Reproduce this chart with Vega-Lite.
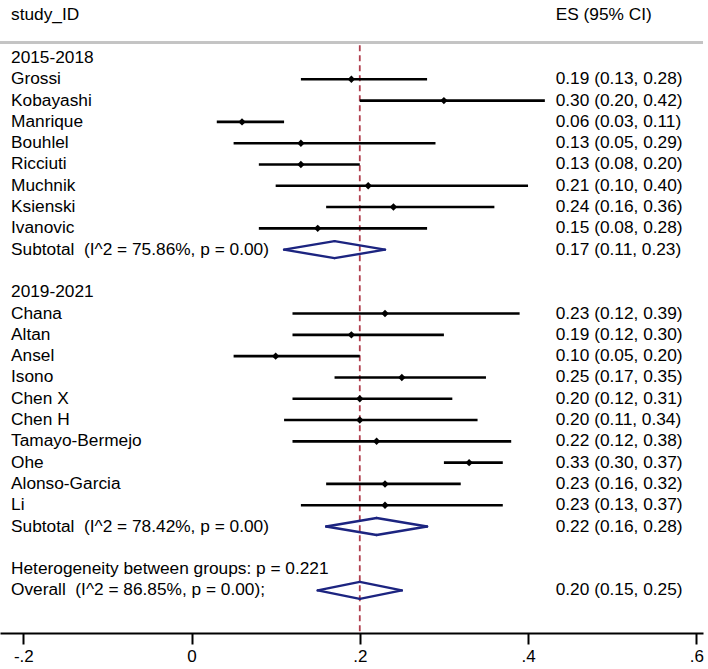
{
  "$schema": "https://vega.github.io/schema/vega-lite/v6.json",
  "width": 703,
  "height": 633,
  "padding": {"left": 0, "top": 0, "right": 5, "bottom": 36},
  "autosize": {"type": "none"},
  "background": "white",
  "config": {
    "view": {"stroke": null},
    "font": "Liberation Sans",
    "text": {"font": "Liberation Sans", "fontSize": 17.3, "color": "black"}
  },
  "data": {
    "values": [
      {"row": -2, "label": "study_ID", "ci": "ES (95% CI)", "type": "header"},
      {"row": 0, "label": "2015-2018", "type": "group"},
      {"row": 1, "label": "Grossi", "es": 0.19, "lo": 0.13, "hi": 0.28, "ci": "0.19 (0.13, 0.28)", "type": "study"},
      {"row": 2, "label": "Kobayashi", "es": 0.30, "lo": 0.20, "hi": 0.42, "ci": "0.30 (0.20, 0.42)", "type": "study"},
      {"row": 3, "label": "Manrique", "es": 0.06, "lo": 0.03, "hi": 0.11, "ci": "0.06 (0.03, 0.11)", "type": "study"},
      {"row": 4, "label": "Bouhlel", "es": 0.13, "lo": 0.05, "hi": 0.29, "ci": "0.13 (0.05, 0.29)", "type": "study"},
      {"row": 5, "label": "Ricciuti", "es": 0.13, "lo": 0.08, "hi": 0.20, "ci": "0.13 (0.08, 0.20)", "type": "study"},
      {"row": 6, "label": "Muchnik", "es": 0.21, "lo": 0.10, "hi": 0.40, "ci": "0.21 (0.10, 0.40)", "type": "study"},
      {"row": 7, "label": "Ksienski", "es": 0.24, "lo": 0.16, "hi": 0.36, "ci": "0.24 (0.16, 0.36)", "type": "study"},
      {"row": 8, "label": "Ivanovic", "es": 0.15, "lo": 0.08, "hi": 0.28, "ci": "0.15 (0.08, 0.28)", "type": "study"},
      {"row": 9, "label": "Subtotal \u00a0(I^2 = 75.86%, p = 0.00)", "es": 0.17, "lo": 0.11, "hi": 0.23, "ci": "0.17 (0.11, 0.23)", "type": "subtotal"},
      {"row": 11, "label": "2019-2021", "type": "group"},
      {"row": 12, "label": "Chana", "es": 0.23, "lo": 0.12, "hi": 0.39, "ci": "0.23 (0.12, 0.39)", "type": "study"},
      {"row": 13, "label": "Altan", "es": 0.19, "lo": 0.12, "hi": 0.30, "ci": "0.19 (0.12, 0.30)", "type": "study"},
      {"row": 14, "label": "Ansel", "es": 0.10, "lo": 0.05, "hi": 0.20, "ci": "0.10 (0.05, 0.20)", "type": "study"},
      {"row": 15, "label": "Isono", "es": 0.25, "lo": 0.17, "hi": 0.35, "ci": "0.25 (0.17, 0.35)", "type": "study"},
      {"row": 16, "label": "Chen X", "es": 0.20, "lo": 0.12, "hi": 0.31, "ci": "0.20 (0.12, 0.31)", "type": "study"},
      {"row": 17, "label": "Chen H", "es": 0.20, "lo": 0.11, "hi": 0.34, "ci": "0.20 (0.11, 0.34)", "type": "study"},
      {"row": 18, "label": "Tamayo-Bermejo", "es": 0.22, "lo": 0.12, "hi": 0.38, "ci": "0.22 (0.12, 0.38)", "type": "study"},
      {"row": 19, "label": "Ohe", "es": 0.33, "lo": 0.30, "hi": 0.37, "ci": "0.33 (0.30, 0.37)", "type": "study"},
      {"row": 20, "label": "Alonso-Garcia", "es": 0.23, "lo": 0.16, "hi": 0.32, "ci": "0.23 (0.16, 0.32)", "type": "study"},
      {"row": 21, "label": "Li", "es": 0.23, "lo": 0.13, "hi": 0.37, "ci": "0.23 (0.13, 0.37)", "type": "study"},
      {"row": 22, "label": "Subtotal \u00a0(I^2 = 78.42%, p = 0.00)", "es": 0.22, "lo": 0.16, "hi": 0.28, "ci": "0.22 (0.16, 0.28)", "type": "subtotal"},
      {"row": 24, "label": "Heterogeneity between groups: p = 0.221", "type": "note"},
      {"row": 25, "label": "Overall \u00a0(I^2 = 86.85%, p = 0.00);", "es": 0.20, "lo": 0.15, "hi": 0.25, "ci": "0.20 (0.15, 0.25)", "type": "overall"}
    ]
  },
  "encoding": {
    "y": {
      "field": "row",
      "type": "quantitative",
      "scale": {"domain": [-2.723, 27], "reverse": true, "nice": false, "zero": false},
      "axis": null
    }
  },
  "layer": [
    {
      "mark": {"type": "rule", "color": "#c4c4c4", "strokeWidth": 2},
      "encoding": {
        "x": {
          "datum": -0.2277,
          "type": "quantitative",
          "scale": {"domain": [-0.2277, 0.608], "nice": false, "zero": false},
          "axis": {
            "values": [-0.2, 0, 0.2, 0.4, 0.6],
            "labelExpr": "datum.value < -0.1 ? '-.2' : datum.value < 0.1 ? '0' : datum.value < 0.3 ? '.2' : datum.value < 0.5 ? '.4' : '.6'",
            "title": null,
            "grid": false,
            "domainColor": "black",
            "domainWidth": 2,
            "tickColor": "black",
            "tickWidth": 2,
            "tickSize": 11,
            "labelFont": "Liberation Sans",
            "labelFontSize": 17,
            "labelColor": "black",
            "labelPadding": 4,
            "labelBaseline": "top",
            "labelFlush": false
          }
        },
        "x2": {"datum": 0.608},
        "y": {"datum": -0.74, "type": "quantitative"}
      }
    },
    {
      "transform": [{"filter": "datum.type === 'overall'"}],
      "mark": {"type": "rule", "color": "#b0404f", "strokeWidth": 1.8, "strokeDash": [6, 4]},
      "encoding": {
        "x": {"field": "es", "type": "quantitative"},
        "y": {"datum": -0.6, "type": "quantitative"},
        "y2": {"datum": 27}
      }
    },
    {
      "mark": {"type": "text", "align": "left", "baseline": "middle"},
      "encoding": {
        "x": {"datum": -0.2146, "type": "quantitative"},
        "text": {"field": "label"}
      }
    },
    {
      "transform": [{"filter": "isValid(datum.ci)"}],
      "mark": {"type": "text", "align": "left", "baseline": "middle"},
      "encoding": {
        "x": {"datum": 0.4329, "type": "quantitative"},
        "text": {"field": "ci"}
      }
    },
    {
      "transform": [{"filter": "datum.type === 'study'"}],
      "mark": {"type": "rule", "color": "black", "strokeWidth": 2.6},
      "encoding": {
        "x": {"field": "lo", "type": "quantitative"},
        "x2": {"field": "hi"}
      }
    },
    {
      "transform": [{"filter": "datum.type === 'study'"}],
      "mark": {"type": "point", "shape": "diamond", "filled": true, "size": 55, "color": "black", "opacity": 1},
      "encoding": {
        "x": {"field": "es", "type": "quantitative"}
      }
    },
    {
      "transform": [{"filter": "datum.type === 'subtotal' || datum.type === 'overall'"}],
      "mark": {"type": "rule", "color": "#1c2480", "strokeWidth": 2.4, "strokeCap": "round", "y2Offset": -8.5},
      "encoding": {
        "x": {"field": "lo", "type": "quantitative"},
        "x2": {"field": "es"},
        "y2": {"field": "row"}
      }
    },
    {
      "transform": [{"filter": "datum.type === 'subtotal' || datum.type === 'overall'"}],
      "mark": {"type": "rule", "color": "#1c2480", "strokeWidth": 2.4, "strokeCap": "round", "y2Offset": 8.5},
      "encoding": {
        "x": {"field": "lo", "type": "quantitative"},
        "x2": {"field": "es"},
        "y2": {"field": "row"}
      }
    },
    {
      "transform": [{"filter": "datum.type === 'subtotal' || datum.type === 'overall'"}],
      "mark": {"type": "rule", "color": "#1c2480", "strokeWidth": 2.4, "strokeCap": "round", "y2Offset": -8.5},
      "encoding": {
        "x": {"field": "hi", "type": "quantitative"},
        "x2": {"field": "es"},
        "y2": {"field": "row"}
      }
    },
    {
      "transform": [{"filter": "datum.type === 'subtotal' || datum.type === 'overall'"}],
      "mark": {"type": "rule", "color": "#1c2480", "strokeWidth": 2.4, "strokeCap": "round", "y2Offset": 8.5},
      "encoding": {
        "x": {"field": "hi", "type": "quantitative"},
        "x2": {"field": "es"},
        "y2": {"field": "row"}
      }
    }
  ]
}
